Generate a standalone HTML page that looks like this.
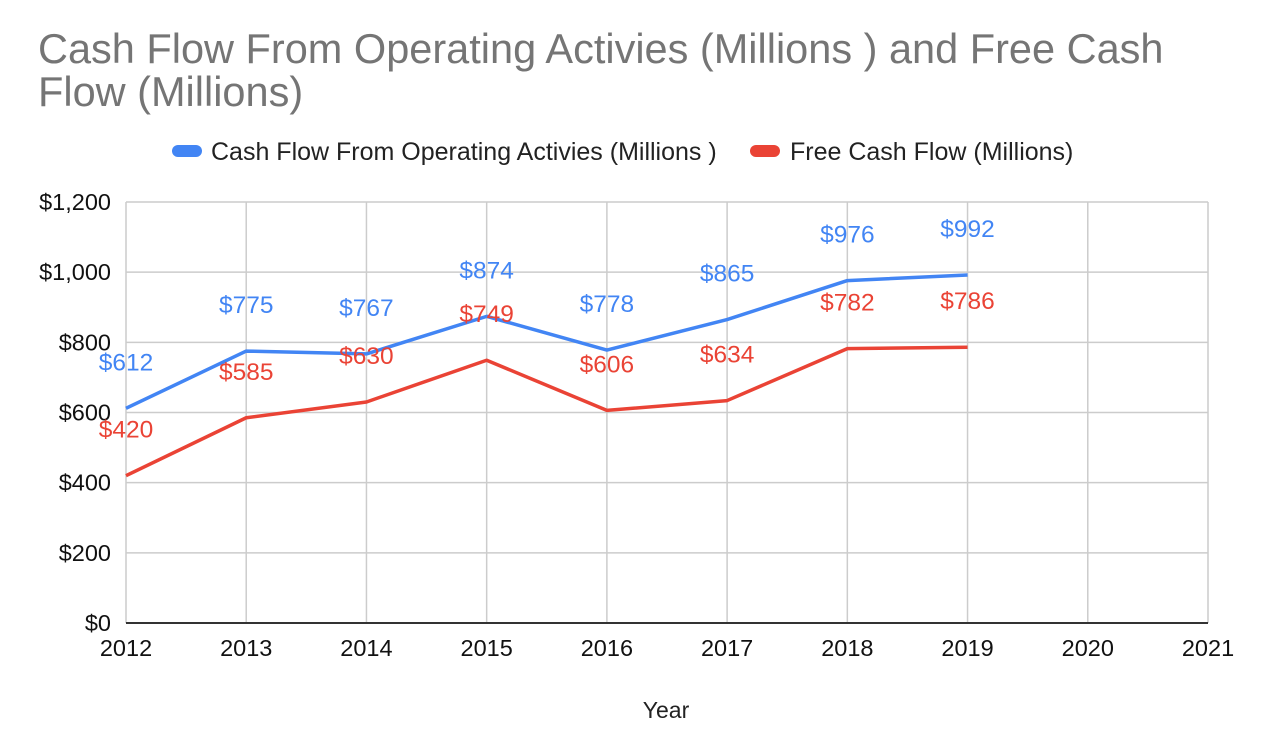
<!DOCTYPE html>
<html><head><meta charset="utf-8"><style>
body{margin:0;background:#fff;font-family:"Liberation Sans",Arial,sans-serif}
svg text{font-family:"Liberation Sans",Arial,sans-serif}
</style></head><body>
<svg id="c" width="1272" height="742" xmlns="http://www.w3.org/2000/svg">
<text x="38" y="63" font-size="41.5" fill="#757575">Cash Flow From Operating Activies (Millions ) and Free Cash</text>
<text x="38" y="106" font-size="41.5" fill="#757575">Flow (Millions)</text>
<g>
<rect x="172" y="145" width="30" height="12" rx="6" fill="#4285f4"/>
<text x="211" y="160" font-size="25" fill="#222">Cash Flow From Operating Activies (Millions )</text>
<rect x="750" y="145" width="30" height="12" rx="6" fill="#ea4335"/>
<text x="790" y="160" font-size="25" fill="#222">Free Cash Flow (Millions)</text>
</g>
<g id="grid"></g><g id="marks"></g>
<text x="666" y="718" font-size="23" text-anchor="middle" fill="#222">Year</text>
</svg>
<script>
const years=[2012,2013,2014,2015,2016,2017,2018,2019,2020,2021];
const yTicks=[0,200,400,600,800,1000,1200];
const yTickLabels=["$0","$200","$400","$600","$800","$1,000","$1,200"];
const opYears=[2012,2013,2014,2015,2016,2017,2018,2019];
const operating=[612,775,767,874,778,865,976,992];
const freeCash=[420,585,630,749,606,634,782,786];
const NS="http://www.w3.org/2000/svg";
const L=126,R=1208,T=202,B=623;
const xs=y=>L+(y-2012)/(2021-2012)*(R-L);
const ys=v=>B-v/1200*(B-T);
const g=document.getElementById('grid'),m=document.getElementById('marks');
function mk(tag,a,p){const e=document.createElementNS(NS,tag);for(const k in a)e.setAttribute(k,a[k]);p.appendChild(e);return e;}
yTicks.forEach((v,i)=>{
 const l=mk('line',{x1:L,x2:R,y1:ys(v),y2:ys(v),stroke:'#ccc','stroke-width':1.5},g);
 
 
 const t=mk('text',{x:111,y:ys(v)+8,'font-size':23.5,'text-anchor':'end',fill:'#111'},g);
 t.textContent=yTickLabels[i];
 
 
});
years.forEach(y=>{
 const l=mk('line',{x1:xs(y),x2:xs(y),y1:T,y2:B,stroke:'#ccc','stroke-width':1.5},g);
 
 
 const t=mk('text',{x:xs(y),y:656,'font-size':23.5,'text-anchor':'middle',fill:'#111'},g);
 t.textContent=y;
 
 
});
const ax=mk('line',{x1:L,x2:R,y1:B,y2:B,stroke:'#333','stroke-width':2},g);


function series(vals,col,name){
 const pts=vals.map((v,i)=>xs(opYears[i])+','+ys(v)).join(' ');
 const p=mk('polyline',{points:pts,fill:'none',stroke:col,'stroke-width':3.5,'stroke-linejoin':'round'},m);
 
 
 vals.forEach((v,i)=>{
  const t=mk('text',{x:xs(opYears[i]),y:ys(v)-38,'font-size':24.5,'text-anchor':'middle',fill:col},m);
  t.textContent='$'+v;
  
  
 });
}
series(operating,'#4285f4','operating-cash-flow');
series(freeCash,'#ea4335','free-cash-flow');
</script>
</body></html>
